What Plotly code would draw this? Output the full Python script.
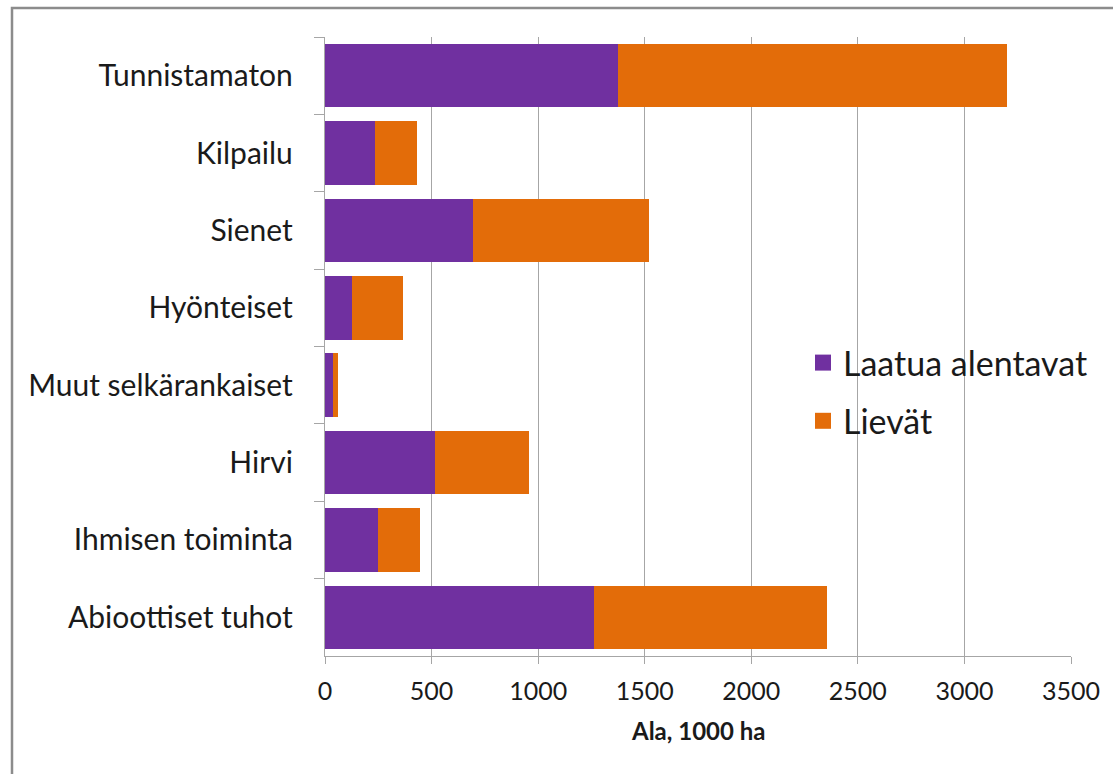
import plotly.graph_objects as go

categories = ["Tunnistamaton", "Kilpailu", "Sienet", "Hyönteiset",
              "Muut selkärankaiset", "Hirvi", "Ihmisen toiminta", "Abioottiset tuhot"]
laatua_alentavat = [1376, 236, 695, 128, 36, 514, 248, 1262]
lievat = [1825, 197, 826, 236, 24, 444, 200, 1093]
series_names = ["Laatua alentavat", "Lievät"]
x_ticks = [0, 500, 1000, 1500, 2000, 2500, 3000, 3500]
x_title = "Ala, 1000 ha"

PURPLE = "#7030A0"
ORANGE = "#E36C09"
GRID = "#A6A6A6"
TXT = "#1a1a1a"
FONT = "Lato, 'Open Sans', sans-serif"

fig = go.Figure()
fig.add_trace(go.Bar(y=categories, x=laatua_alentavat, orientation="h",
                     marker=dict(color=PURPLE, line=dict(width=0)),
                     name=series_names[0], showlegend=False))
fig.add_trace(go.Bar(y=categories, x=lievat, orientation="h",
                     marker=dict(color=ORANGE, line=dict(width=0)),
                     name=series_names[1], showlegend=False))
# legend entries with larger square markers
for nm, col, grp in [(series_names[0], PURPLE, "a"), (series_names[1], ORANGE, "b")]:
    fig.add_trace(go.Scatter(x=[None], y=[None], mode="markers", name=nm,
                             legendgroup=grp,
                             marker=dict(symbol="square", size=20, color=col)))

W, H = 1113, 774
L, R, T, B = 325, 1071, 37, 656

fig.update_layout(
    width=W, height=H,
    margin=dict(l=L, r=W - R, t=T, b=H - B),
    barmode="stack", bargap=0.18,
    paper_bgcolor="white", plot_bgcolor="white",
    font=dict(family=FONT, color=TXT),
    legend=dict(x=(803 - L) / (R - L), y=(656 - 334) / (B - T), xanchor="left", yanchor="top",
                font=dict(size=34, color=TXT, family=FONT),
                traceorder="grouped", tracegroupgap=11,
                bgcolor="rgba(0,0,0,0)", itemwidth=30),
    xaxis=dict(range=[0, 3500], tickvals=x_ticks, ticktext=[str(v) for v in x_ticks],
               showgrid=True, gridcolor=GRID, gridwidth=1.3,
               showline=True, linecolor=GRID, linewidth=1.3,
               ticks="outside", ticklen=7, tickcolor=GRID, tickwidth=1.3,
               tickfont=dict(size=25, color=TXT), zeroline=False,
               ticklabelstandoff=6),
    yaxis=dict(categoryorder="array", categoryarray=categories, autorange="reversed",
               showgrid=False, showline=True, linecolor=GRID, linewidth=1.3,
               ticks="outside", ticklen=10, tickcolor=GRID, tickwidth=1.3,
               tickson="boundaries", tickfont=dict(size=30, color=TXT),
               ticklabelstandoff=25),
    annotations=[dict(text="<b>" + x_title + "</b>", xref="paper", yref="paper",
                      x=0.5, y=(B - 731) / (B - T), xanchor="center", yanchor="middle",
                      showarrow=False, font=dict(size=24, color=TXT, family=FONT))],
    shapes=[dict(type="rect", xref="paper", yref="paper",
                 x0=(12 - L) / (R - L), x1=(1125 - L) / (R - L),
                 y0=(B - 790) / (B - T), y1=(B - 8) / (B - T),
                 line=dict(color="#8c8c8c", width=2.5), fillcolor="rgba(0,0,0,0)",
                 layer="below")],
)

fig.write_html("out.html")
